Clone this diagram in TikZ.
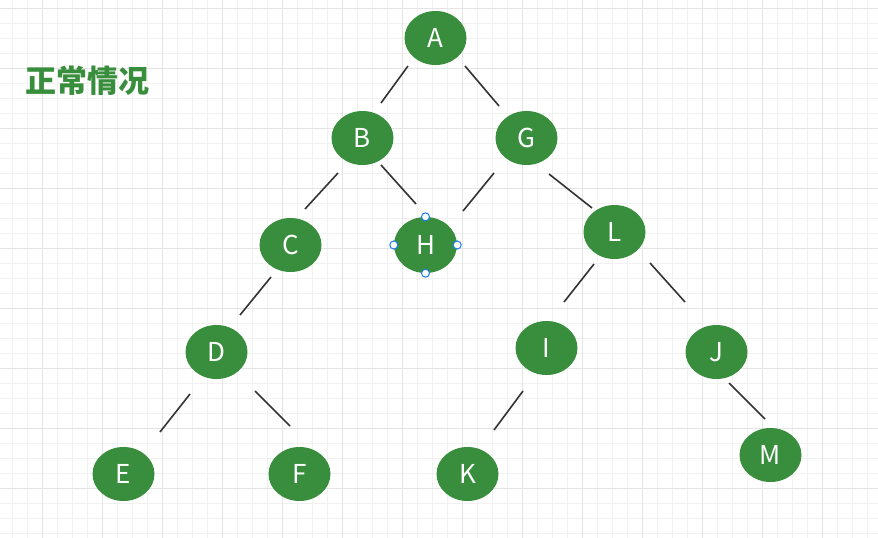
\documentclass[tikz,border=0pt]{standalone}
\usepackage{fontspec}
\usetikzlibrary{shapes.geometric}
\newfontfamily\cjk{Noto Sans CJK SC}
\definecolor{treegreen}{HTML}{388E3C}
\definecolor{edgegray}{HTML}{333333}
\definecolor{handleblue}{HTML}{1A7CF0}
\definecolor{gridminorc}{HTML}{F1F1F1}
\definecolor{gridmajorc}{HTML}{E4E4E4}
\begin{document}
\begin{tikzpicture}[x=1pt,y=-1pt,
  tnode/.style={ellipse,fill=treegreen,minimum width=62pt,minimum height=54pt,inner sep=0pt,text=white,font=\cjk\fontsize{26}{28}\selectfont},
  edge/.style={draw=edgegray,line width=1.6pt},
  gridminor/.style={draw=gridminorc,line width=1pt},
  gridmajor/.style={draw=gridmajorc,line width=1pt},
  handle/.style={circle,draw=handleblue,fill=white,line width=1pt,minimum size=8pt,inner sep=0pt}]
\useasboundingbox (0,0) rectangle (878,538);
\fill[white] (0,0) rectangle (878,538);
% grid
\foreach \x in {-3,12,...,878} \draw[gridminor] (\x,0) -- (\x,538);
\foreach \y in {8,23,...,538} \draw[gridminor] (0,\y) -- (878,\y);
\foreach \x in {42,102,...,878} \draw[gridmajor] (\x,0) -- (\x,538);
\foreach \y in {8,68,...,538} \draw[gridmajor] (0,\y) -- (878,\y);
% title
\node[text=treegreen,font=\cjk\bfseries\fontsize{31}{34}\selectfont] (title) at (87,81) {正常情况};
% nodes
\node[tnode] (A) at (435.5,38) {A};
\node[tnode] (B) at (362.5,138) {B};
\node[tnode] (G) at (526.5,138) {G};
\node[tnode] (C) at (290.5,245) {C};
\node[tnode,minimum width=63pt,minimum height=56pt] (H) at (425.5,245) {H};
\node[tnode] (L) at (614.5,232) {L};
\node[tnode] (D) at (216.5,352) {D};
\node[tnode] (I) at (546.5,348) {I};
\node[tnode] (J) at (716.5,352) {J};
\node[tnode] (E) at (123.5,474) {E};
\node[tnode] (F) at (299.5,474) {F};
\node[tnode] (K) at (467.5,474) {K};
\node[tnode] (M) at (770.5,455) {M};
% selection handles on H
\node[handle] (hN) at (H.north) {};
\node[handle] (hS) at (H.south) {};
\node[handle] (hW) at (H.west) {};
\node[handle] (hE) at (H.east) {};
% connector end points
\coordinate (ab1) at (408,66);  \coordinate (ab2) at (381,103);
\coordinate (ag1) at (465,66);  \coordinate (ag2) at (499,106);
\coordinate (bc1) at (338,173); \coordinate (bc2) at (305,209);
\coordinate (bh1) at (381,165); \coordinate (bh2) at (416,204);
\coordinate (gh1) at (494,173); \coordinate (gh2) at (463,211);
\coordinate (gl1) at (549,174); \coordinate (gl2) at (592,208);
\coordinate (cd1) at (271,277); \coordinate (cd2) at (240,315);
\coordinate (li1) at (594,264); \coordinate (li2) at (564,302);
\coordinate (lj1) at (650,263); \coordinate (lj2) at (685,302);
\coordinate (de1) at (190,394); \coordinate (de2) at (160,432);
\coordinate (df1) at (255,391); \coordinate (df2) at (290,426);
\coordinate (ik1) at (523,391); \coordinate (ik2) at (494,430);
\coordinate (jm1) at (729,383); \coordinate (jm2) at (765,419);
\foreach \e in {ab,ag,bc,bh,gh,gl,cd,li,lj,de,df,ik,jm}
  \draw[edge] (\e1) -- (\e2);
\end{tikzpicture}
\end{document}
